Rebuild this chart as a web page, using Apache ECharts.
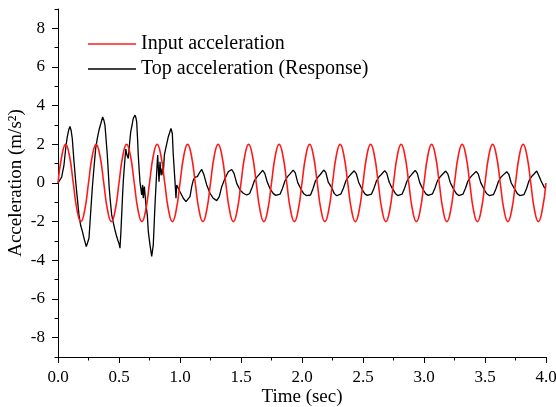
<!DOCTYPE html>
<html>
<head>
<meta charset="utf-8">
<script src="https://cdn.jsdelivr.net/npm/echarts@6/dist/echarts.min.js"></script>
<style>html,body{margin:0;padding:0;background:#fff;}#c{width:556px;height:407px;}</style>
</head>
<body>
<div id="c"></div>
<script>
// Input acceleration (red) sampled every 1/32 s
const redT = [
0,0.03125,0.0625,0.09375,0.125,0.15625,0.1875,0.21875,
0.25,0.28125,0.3125,0.34375,0.375,0.40625,0.4375,0.46875,
0.5,0.53125,0.5625,0.59375,0.625,0.65625,0.6875,0.71875,
0.75,0.78125,0.8125,0.84375,0.875,0.90625,0.9375,0.96875,
1,1.03125,1.0625,1.09375,1.125,1.15625,1.1875,1.21875,
1.25,1.28125,1.3125,1.34375,1.375,1.40625,1.4375,1.46875,
1.5,1.53125,1.5625,1.59375,1.625,1.65625,1.6875,1.71875,
1.75,1.78125,1.8125,1.84375,1.875,1.90625,1.9375,1.96875,
2,2.03125,2.0625,2.09375,2.125,2.15625,2.1875,2.21875,
2.25,2.28125,2.3125,2.34375,2.375,2.40625,2.4375,2.46875,
2.5,2.53125,2.5625,2.59375,2.625,2.65625,2.6875,2.71875,
2.75,2.78125,2.8125,2.84375,2.875,2.90625,2.9375,2.96875,
3,3.03125,3.0625,3.09375,3.125,3.15625,3.1875,3.21875,
3.25,3.28125,3.3125,3.34375,3.375,3.40625,3.4375,3.46875,
3.5,3.53125,3.5625,3.59375,3.625,3.65625,3.6875,3.71875,
3.75,3.78125,3.8125,3.84375,3.875,3.90625,3.9375,3.96875,
4
];
const redV = [
0,1.41,2,1.41,0,-1.41,-2,-1.41,
0,1.41,2,1.41,0,-1.41,-2,-1.41,
0,1.41,2,1.41,0,-1.41,-2,-1.41,
0,1.41,2,1.41,0,-1.41,-2,-1.41,
0,1.41,2,1.41,0,-1.41,-2,-1.41,
0,1.41,2,1.41,0,-1.41,-2,-1.41,
0,1.41,2,1.41,0,-1.41,-2,-1.41,
0,1.41,2,1.41,0,-1.41,-2,-1.41,
0,1.41,2,1.41,0,-1.41,-2,-1.41,
0,1.41,2,1.41,0,-1.41,-2,-1.41,
0,1.41,2,1.41,0,-1.41,-2,-1.41,
0,1.41,2,1.41,0,-1.41,-2,-1.41,
0,1.41,2,1.41,0,-1.41,-2,-1.41,
0,1.41,2,1.41,0,-1.41,-2,-1.41,
0,1.41,2,1.41,0,-1.41,-2,-1.41,
0,1.41,2,1.41,0,-1.41,-2,-1.41,
0
];
// Top acceleration (black)
const blackT = [
0,0.015,0.03,0.049,0.065,0.076,0.088,0.098,0.108,0.117,
0.13,0.145,0.16,0.172,0.186,0.2,0.215,0.232,0.244,0.254,
0.268,0.281,0.295,0.309,0.322,0.336,0.35,0.366,0.376,0.385,
0.395,0.404,0.412,0.42,0.43,0.44,0.455,0.467,0.481,0.494,
0.503,0.508,0.515,0.522,0.528,0.535,0.542,0.549,0.556,0.563,
0.57,0.576,0.586,0.596,0.607,0.617,0.631,0.638,0.645,0.652,
0.658,0.665,0.672,0.686,0.694,0.699,0.708,0.721,0.732,0.74,
0.754,0.768,0.781,0.795,0.809,0.817,0.828,0.836,0.845,0.855,
0.862,0.872,0.883,0.893,0.904,0.915,0.926,0.937,0.945,0.959,
0.967,0.973,0.986,1.0,1.014,1.027,1.041,1.049,1.062,1.082,
1.096,1.109,1.123,1.142,1.164,1.178,1.197,1.219,1.246,1.273,
1.301,1.322,1.342,1.369,1.396,1.424,1.443,1.465,1.492,1.519,
1.546,
1.57,1.59,1.61,1.63,1.65,1.678,1.695,1.715,1.74,1.765,1.785,
1.80,1.82,1.84,1.86,1.88,1.90,1.928,1.945,1.965,1.99,2.015,2.035,
2.05,2.07,2.09,2.11,2.13,2.15,2.178,2.195,2.215,2.24,2.265,2.285,
2.30,2.32,2.34,2.36,2.38,2.40,2.428,2.445,2.465,2.49,2.515,2.535,
2.55,2.57,2.59,2.61,2.63,2.65,2.678,2.695,2.715,2.74,2.765,2.785,
2.80,2.82,2.84,2.86,2.88,2.90,2.928,2.945,2.965,2.99,3.015,3.035,
3.05,3.07,3.09,3.11,3.13,3.15,3.178,3.195,3.215,3.24,3.265,3.285,
3.30,3.32,3.34,3.36,3.38,3.40,3.428,3.445,3.465,3.49,3.515,3.535,
3.55,3.57,3.59,3.61,3.63,3.65,3.678,3.695,3.715,3.74,3.765,3.785,
3.80,3.82,3.84,3.86,3.88,3.90,3.924,3.94,3.96,3.99
];
const blackV = [
0,0.02,0.3,0.93,1.9,2.39,2.75,2.92,2.7,2.3,
1.2,0.07,-0.9,-1.65,-2.2,-2.5,-2.9,-3.29,-3.2,-2.86,
-1.5,-0.27,0.8,1.79,2.3,2.74,3.05,3.42,3.25,2.99,
2.2,1.45,0.6,-0.27,-1.0,-1.65,-2.1,-2.43,-2.77,-3.03,
-3.2,-3.37,-2.6,-1.65,-0.8,0.07,0.7,1.27,1.75,1.5,
1.55,1.27,2.0,2.65,3.0,3.34,3.51,3.4,3.16,2.3,
1.45,0.7,0.07,-0.62,-0.1,-0.79,-0.19,-1.14,-1.65,-2.5,
-3.2,-3.8,-3.2,-1.14,0.58,1.45,0.07,1.1,0.4,0.76,
0.4,1.45,1.79,1.85,2.39,2.6,2.82,2.56,1.45,0.07,
-0.79,-0.1,-0.27,-0.45,-0.62,-0.79,-0.88,-0.96,-0.9,-0.7,
-0.19,0.15,0.3,0.33,0.58,0.7,0.41,-0.1,-0.53,-0.79,
-0.91,-0.7,-0.19,0.24,0.58,0.7,0.5,-0.02,-0.36,-0.53,
-0.62,
-0.55,-0.25,0.12,0.3,0.45,0.66,0.5,0.05,-0.32,-0.55,-0.64,
-0.66,-0.58,-0.28,0.1,0.32,0.46,0.67,0.52,0.02,-0.3,-0.56,-0.65,
-0.65,-0.62,-0.3,0.1,0.3,0.44,0.67,0.55,0.05,-0.2,-0.55,-0.66,
-0.66,-0.56,-0.26,0.12,0.3,0.45,0.63,0.48,0.03,-0.3,-0.56,-0.64,
-0.64,-0.57,-0.27,0.1,0.31,0.44,0.64,0.5,0.04,-0.28,-0.54,-0.65,
-0.65,-0.58,-0.29,0.09,0.3,0.45,0.65,0.5,0.02,-0.31,-0.56,-0.64,
-0.66,-0.56,-0.26,0.11,0.3,0.44,0.62,0.47,0.03,-0.29,-0.55,-0.65,
-0.65,-0.57,-0.27,0.1,0.29,0.43,0.6,0.46,0.02,-0.3,-0.56,-0.65,
-0.65,-0.6,-0.3,0.08,0.3,0.42,0.58,0.45,0.0,-0.28,-0.55,-0.65,
-0.65,-0.6,-0.3,0.1,0.32,0.45,0.62,0.4,0.1,-0.28
];
const seriesNames = ['Input acceleration', 'Top acceleration (Response)'];
const yMajorTicks = [-8,-6,-4,-2,0,2,4,6,8];
const yMinorTicks = [-9,-7,-5,-3,-1,1,3,5,7,9];

const FONT = 'Liberation Serif';
const redData = redT.map((t, i) => [t, redV[i]]);
const blackData = blackT.map((t, i) => [t, blackV[i]]);

const chart = echarts.init(document.getElementById('c'), null, {renderer: 'canvas'});
const baseY = {
  type: 'value', min: -9, max: 9, interval: 1, position: 'left',
  splitLine: {show: false}
};
chart.setOption({
  animation: false,
  backgroundColor: '#fff',
  textStyle: {fontFamily: FONT, color: '#000'},
  grid: {left: 58, right: 10, top: 9, bottom: 50, containLabel: false, outerBoundsMode: 'none'},
  legend: {
    data: [
      {name: seriesNames[0], icon: 'rect', itemStyle: {color: '#ff1a1a'}},
      {name: seriesNames[1], icon: 'rect', itemStyle: {color: '#000'}}
    ],
    orient: 'vertical',
    left: 88, top: 34, padding: 0,
    itemWidth: 48, itemHeight: 1.6, itemGap: 5,
    textStyle: {fontFamily: FONT, fontSize: 20, color: '#000'}
  },
  xAxis: {
    type: 'value', min: 0, max: 4, interval: 0.5,
    axisLine: {show: true, onZero: false, lineStyle: {color: '#000', width: 1}},
    axisTick: {show: true, length: 6, lineStyle: {color: '#000', width: 1}},
    minorTick: {show: true, splitNumber: 2, length: 3.5, lineStyle: {color: '#000', width: 1}},
    splitLine: {show: false},
    axisLabel: {color: '#000', fontFamily: FONT, fontSize: 17, margin: 12, formatter: v => v.toFixed(1)},
    name: 'Time (sec)', nameLocation: 'middle', nameGap: 31, nameMoveOverlap: false,
    nameTextStyle: {fontFamily: FONT, fontSize: 19, color: '#000'}
  },
  yAxis: [
    Object.assign({}, baseY, {
      axisLine: {show: true, onZero: false, lineStyle: {color: '#000', width: 1}},
      axisTick: {show: true, length: 6, customValues: yMajorTicks, lineStyle: {color: '#000', width: 1}},
      axisLabel: {color: '#000', fontFamily: FONT, fontSize: 17, margin: 13, customValues: yMajorTicks},
      name: 'Acceleration (m/s²)', nameLocation: 'middle', nameGap: 32, nameMoveOverlap: false,
      nameTextStyle: {fontFamily: FONT, fontSize: 19, color: '#000'}
    }),
    Object.assign({}, baseY, {
      axisLine: {show: false, onZero: false},
      axisTick: {show: true, length: 3.5, customValues: yMinorTicks, lineStyle: {color: '#000', width: 1}},
      axisLabel: {show: false}
    })
  ],
  series: [
    {
      name: seriesNames[0], type: 'line', data: redData, smooth: 0.5,
      showSymbol: false, symbol: 'none', z: 3,
      lineStyle: {color: '#ff1a1a', width: 1.6}, itemStyle: {color: '#ff1a1a'}
    },
    {
      name: seriesNames[1], type: 'line', data: blackData, smooth: false,
      showSymbol: false, symbol: 'none', z: 2,
      lineStyle: {color: '#000', width: 1.3}, itemStyle: {color: '#000'}
    }
  ]
});
</script>
</body>
</html>
